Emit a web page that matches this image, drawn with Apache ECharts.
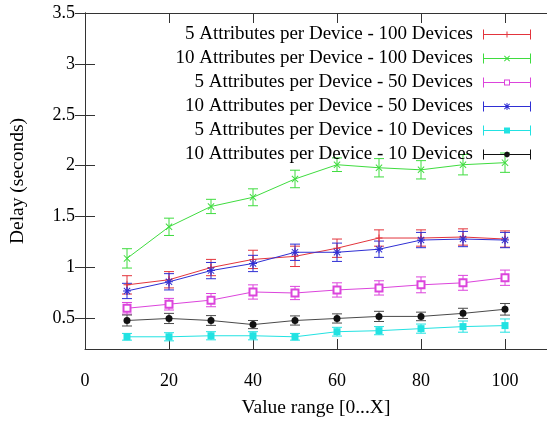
<!DOCTYPE html>
<html><head><meta charset="utf-8">
<script src="https://cdn.jsdelivr.net/npm/echarts@6/dist/echarts.min.js"></script>
<style>html,body{margin:0;padding:0;background:#fff}#c{width:547px;height:423px}</style>
</head><body><div id="c"></div>
<script>
const xValues = [10, 20, 30, 40, 50, 60, 70, 80, 90, 100];
const xTicks = [0, 20, 40, 60, 80, 100];
const yTicks = [0.5, 1, 1.5, 2, 2.5, 3, 3.5];
const seriesNames = [
  '5 Attributes per Device - 100 Devices',
  '10 Attributes per Device - 100 Devices',
  '5 Attributes per Device - 50 Devices',
  '10 Attributes per Device - 50 Devices',
  '5 Attributes per Device - 10 Devices',
  '10 Attributes per Device - 10 Devices'
];
const a5d100 = [0.83, 0.88, 1.00, 1.08, 1.11, 1.19, 1.29, 1.29, 1.30, 1.28];
const a5d100Err = [0.09, 0.08, 0.08, 0.09, 0.10, 0.09, 0.08, 0.08, 0.08, 0.08];
const a10d100 = [1.09, 1.40, 1.60, 1.69, 1.87, 2.01, 1.98, 1.96, 2.01, 2.03];
const a10d100Err = [0.095, 0.085, 0.07, 0.083, 0.086, 0.067, 0.09, 0.09, 0.10, 0.095];
const a5d50 = [0.60, 0.64, 0.68, 0.76, 0.75, 0.78, 0.80, 0.83, 0.85, 0.90];
const a5d50Err = [0.057, 0.057, 0.065, 0.07, 0.065, 0.07, 0.07, 0.078, 0.073, 0.075];
const a10d50 = [0.77, 0.86, 0.97, 1.04, 1.15, 1.15, 1.18, 1.27, 1.28, 1.27];
const a10d50Err = [0.075, 0.08, 0.08, 0.08, 0.08, 0.09, 0.08, 0.075, 0.075, 0.075];
const a5d10 = [0.32, 0.32, 0.33, 0.33, 0.32, 0.37, 0.38, 0.40, 0.42, 0.43];
const a5d10Err = [0.033, 0.04, 0.04, 0.04, 0.033, 0.043, 0.04, 0.045, 0.055, 0.065];
const a10d10 = [0.48, 0.50, 0.48, 0.44, 0.48, 0.50, 0.52, 0.52, 0.55, 0.59];
const a10d10Err = [0.054, 0.05, 0.048, 0.04, 0.045, 0.045, 0.05, 0.042, 0.05, 0.057];

const means = [a5d100, a10d100, a5d50, a10d50, a5d10, a10d10];
const errs = [a5d100Err, a10d100Err, a5d50Err, a10d50Err, a5d10Err, a10d10Err];
const colors = ['#e3343c', '#3fdc3f', '#dc44dc', '#2f2fd4', '#22e2e2', '#111111'];
const lineColors = ['#e3343c', '#3fdc3f', '#dc44dc', '#2f2fd4', '#22e2e2', '#4a4a4a'];

const FONT = 'Liberation Serif';
const P_PLUS = 'path://M3,0h1v7h-1Z M0,3h7v1h-7Z';
const P_X = 'path://M0,0.7L0.7,0L7,6.3L6.3,7Z M6.3,0L7,0.7L0.7,7L0,6.3Z';
const P_STAR = 'path://M3.5,0h1v8h-1Z M0,3.5h8v1h-8Z M0.5,1.2L1.2,0.5L7.5,6.8L6.8,7.5Z M6.8,0.5L7.5,1.2L1.2,7.5L0.5,6.8Z';
const symbols = [P_PLUS, P_X, 'emptyRect', P_STAR, 'rect', 'circle'];
const symbolSizes = [7, 7, 7, 8, 7, 7];

const CAPS = 'M0,0h1v10h-1Z M47,0h1v10h-1Z ';
const LINE = 'M0,4.5h48v1h-48Z ';
const legendIcons = [
  'path://' + CAPS + LINE + 'M23.5,2h1v6h-1Z',
  'path://' + CAPS + LINE + 'M21,2.7L21.7,2L27,7.3L26.3,8Z M26.3,2L27,2.7L21.7,8L21,7.3Z',
  'path://' + CAPS + 'M0,4.5h21v1h-21Z M27,4.5h21v1h-21Z M21,2h6v1h-6Z M21,7h6v1h-6Z M21,2h1v6h-1Z M26,2h1v6h-1Z',
  'path://' + CAPS + LINE + 'M23.5,1.5h1v7h-1Z M21,2.7L21.7,2L27,7.3L26.3,8Z M26.3,2L27,2.7L21.7,8L21,7.3Z',
  'path://' + CAPS + LINE + 'M21,2h6v6h-6Z',
  'path://' + CAPS + LINE + 'M27,5L26.12,7.12L24,8L21.88,7.12L21,5L21.88,2.88L24,2L26.12,2.88Z'
];

function renderErr(params, api) {
  const x = api.value(0), y = api.value(1), e = api.value(2);
  const top = api.coord([x, y + e]);
  const bot = api.coord([x, y - e]);
  const hw = 5;
  const style = { stroke: api.visual('color'), lineWidth: 1, fill: null };
  return {
    type: 'group',
    children: [
      { type: 'line', shape: { x1: top[0], y1: top[1], x2: bot[0], y2: bot[1] }, style: style },
      { type: 'line', shape: { x1: top[0] - hw, y1: top[1], x2: top[0] + hw, y2: top[1] }, style: style },
      { type: 'line', shape: { x1: bot[0] - hw, y1: bot[1], x2: bot[0] + hw, y2: bot[1] }, style: style }
    ]
  };
}

const series = [];
seriesNames.forEach(function (name, i) {
  series.push({
    name: name + ' (err)',
    type: 'custom',
    renderItem: renderErr,
    itemStyle: { color: lineColors[i] },
    data: xValues.map(function (x, k) { return [x, means[i][k], errs[i][k]]; }),
    z: 2,
    silent: true
  });
});
seriesNames.forEach(function (name, i) {
  series.push({
    name: name,
    type: 'line',
    data: xValues.map(function (x, k) { return [x, means[i][k]]; }),
    symbol: symbols[i],
    symbolSize: symbolSizes[i],
    showAllSymbol: true,
    itemStyle: { color: colors[i], borderColor: colors[i], borderWidth: symbols[i] === 'emptyRect' ? 1 : 0 },
    lineStyle: { color: lineColors[i], width: 1 },
    z: 3,
    animation: false
  });
});

const axisCommon = {
  axisLine: { show: true, lineStyle: { color: '#333', width: 1 } },
  splitLine: { show: false }
};

const chart = echarts.init(document.getElementById('c'));
chart.setOption({
  animation: false,
  backgroundColor: '#fff',
  grid: { left: 84, top: 13, right: -2, bottom: 72, containLabel: false },
  legend: {
    orient: 'vertical',
    right: 16,
    top: 25,
    padding: 0,
    align: 'right',
    itemWidth: 48,
    itemHeight: 10,
    itemGap: 5,
    selectedMode: false,
    itemStyle: { borderWidth: 0 },
    textStyle: { fontFamily: FONT, fontSize: 19, color: '#000', padding: [0, 5, 0, 0] },
    data: seriesNames.map(function (n, i) { return { name: n, icon: legendIcons[i] }; })
  },
  xAxis: [
    Object.assign({
      type: 'value', min: 0, max: 110, position: 'bottom',
      axisTick: { show: true, inside: true, length: 10, customValues: xTicks, lineStyle: { color: '#333' } },
      axisLabel: { customValues: xTicks, margin: 23, fontFamily: FONT, fontSize: 18, color: '#000' },
      name: 'Value range [0...X]', nameLocation: 'middle', nameGap: 49,
      nameTextStyle: { fontFamily: FONT, fontSize: 19.5, color: '#000' }
    }, axisCommon),
    Object.assign({
      type: 'value', min: 0, max: 110, position: 'top',
      axisTick: { show: true, inside: true, length: 10, customValues: xTicks, lineStyle: { color: '#333' } },
      axisLabel: { show: false }
    }, axisCommon)
  ],
  yAxis: [
    Object.assign({
      type: 'value', min: 0.2, max: 3.5, position: 'left',
      axisTick: { show: true, inside: true, length: 10, customValues: yTicks, lineStyle: { color: '#333' } },
      axisLabel: { customValues: yTicks, margin: 10, fontFamily: FONT, fontSize: 18, color: '#000' },
      name: 'Delay (seconds)', nameLocation: 'middle', nameGap: 57, nameRotate: 90,
      nameTextStyle: { fontFamily: FONT, fontSize: 19.5, color: '#000' }
    }, axisCommon),
    Object.assign({
      type: 'value', min: 0.2, max: 3.5, position: 'right',
      axisTick: { show: true, inside: true, length: 10, customValues: yTicks, lineStyle: { color: '#333' } },
      axisLabel: { show: false }
    }, axisCommon)
  ],
  series: series
});
</script>
</body></html>
